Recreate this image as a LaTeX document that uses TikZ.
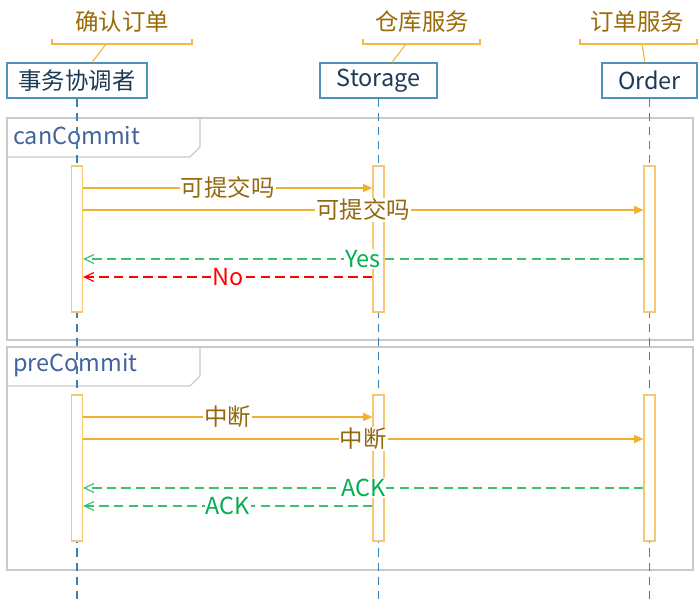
\documentclass[tikz,border=0pt]{standalone}
\usepackage{fontspec}
\setmainfont{Noto Sans CJK SC}
\usepackage{xcolor}
\usetikzlibrary{arrows.meta}

\definecolor{hdtext}{HTML}{1D3A56}
\definecolor{hdline}{HTML}{4F93BD}
\definecolor{lifeblue}{HTML}{3A80B0}
\definecolor{nttext}{HTML}{9A6A08}
\definecolor{ntline}{HTML}{F5B942}
\definecolor{frmline}{HTML}{CACACA}
\definecolor{frmtext}{HTML}{42649A}
\definecolor{actline}{HTML}{F7C873}
\definecolor{reqline}{HTML}{F2B030}
\definecolor{msgtext}{HTML}{93680F}
\definecolor{okgreen}{HTML}{3CC070}
\definecolor{oktext}{HTML}{00B050}
\definecolor{nored}{HTML}{FF0000}
\newcommand{\dfont}{\fontsize{20pt}{24pt}\selectfont}

\begin{document}
\begin{tikzpicture}[x=0.03cm, y=-0.03cm,
  hd/.style={rectangle, draw=hdline, line width=1pt, fill=white, minimum height=1.05cm, inner sep=0pt, text=hdtext, font=\dfont},
  nt/.style={text=nttext, font=\dfont, inner sep=0pt},
  br/.style={draw=ntline, line width=1pt},
  life/.style={draw=lifeblue, line width=1pt, dash pattern=on 7pt off 5pt},
  act/.style={rectangle, draw=actline, line width=1pt, fill=white, minimum width=0.33cm, minimum height=4.38cm, inner sep=0pt},
  req/.style={draw=reqline, line width=1pt, -{Triangle[length=8pt, width=7pt]}},
  rsp/.style={line width=1pt, dash pattern=on 8pt off 4.5pt, -{Straight Barb[length=8pt, width=7.5pt]}},
  ml/.style={fill=white, inner sep=1pt, font=\dfont, text=msgtext},
  frm/.style={draw=frmline, line width=1pt},
  fl/.style={anchor=west, inner sep=0pt, font=\dfont, text=frmtext}]
\useasboundingbox (0,0) rectangle (699,599);

% participants
\node[hd, minimum width=4.2cm] (co) at (77,80.5) {事务协调者};
\node[hd, minimum width=3.51cm] (st) at (378.5,80.5) {Storage};
\node[hd, minimum width=2.85cm] (or) at (649.5,80.5) {Order};

% notes above the heads
\node[nt] (n1) at (122,22) {确认订单};
\node[nt] (n2) at (422,22) {仓库服务};
\node[nt] (n3) at (637,22) {订单服务};
\draw[br] (52,39) -- (52,44) -- (192,44) -- (192,39);
\draw[br] (363,39) -- (363,44) -- (480,44) -- (480,39);
\draw[br] (580,39) -- (580,44) -- (697,44) -- (697,39);
\coordinate (k1) at (106,44);
\coordinate (k2) at (406,44);
\coordinate (k3) at (642,44);
\draw[br] (k1) -- (co.north -| 92,0);
\draw[br] (k2) -- (st.north -| 392,0);
\draw[br] (k3) -- (or.north -| 645,0);

% frames
\draw[frm] (7,118) rectangle (693,340);
\draw[frm] (7,157) -- (190,157) -- (200,147) -- (200,118);
\node[fl] (f1) at (13,136) {canCommit};
\draw[frm] (7,347) rectangle (693,570);
\draw[frm] (7,386) -- (190,386) -- (200,376) -- (200,347);
\node[fl] (f2) at (13,365) {preCommit};

% lifelines
\coordinate (coEnd) at (77,599);
\coordinate (stEnd) at (378.5,599);
\coordinate (orEnd) at (649.5,599);
\draw[life] (co) -- (coEnd);
\draw[life] (st) -- (stEnd);
\draw[life] (or) -- (orEnd);

\begin{scope}
  \node[act] (ca) at (77,239) {};
  \node[act] (sa) at (378.5,239) {};
  \node[act] (oa) at (649.5,239) {};
  \coordinate (t1) at (0,188);
  \coordinate (t2) at (0,210);
  \coordinate (t3) at (0,259);
  \coordinate (t4) at (0,277);
  \draw[req] (ca.east |- t1) -- node[ml] {可提交吗} (sa.west |- t1);
  \draw[req] (ca.east |- t2) -- node[ml] {可提交吗} (oa.west |- t2);
  \draw[rsp, okgreen] (oa.west |- t3) -- node[ml, text=oktext] {Yes} (ca.east |- t3);
  \draw[rsp, nored] (sa.west |- t4) -- node[ml, text=nored] {No} (ca.east |- t4);
\end{scope}
\begin{scope}
  \node[act] (cb) at (77,468) {};
  \node[act] (sb) at (378.5,468) {};
  \node[act] (ob) at (649.5,468) {};
  \coordinate (u1) at (0,417);
  \coordinate (u2) at (0,439);
  \coordinate (u3) at (0,488);
  \coordinate (u4) at (0,506);
  \draw[req] (cb.east |- u1) -- node[ml] {中断} (sb.west |- u1);
  \draw[req] (cb.east |- u2) -- node[ml] {中断} (ob.west |- u2);
  \draw[rsp, okgreen] (ob.west |- u3) -- node[ml, text=oktext] {ACK} (cb.east |- u3);
  \draw[rsp, okgreen] (sb.west |- u4) -- node[ml, text=oktext] {ACK} (cb.east |- u4);
\end{scope}
\end{tikzpicture}
\end{document}
